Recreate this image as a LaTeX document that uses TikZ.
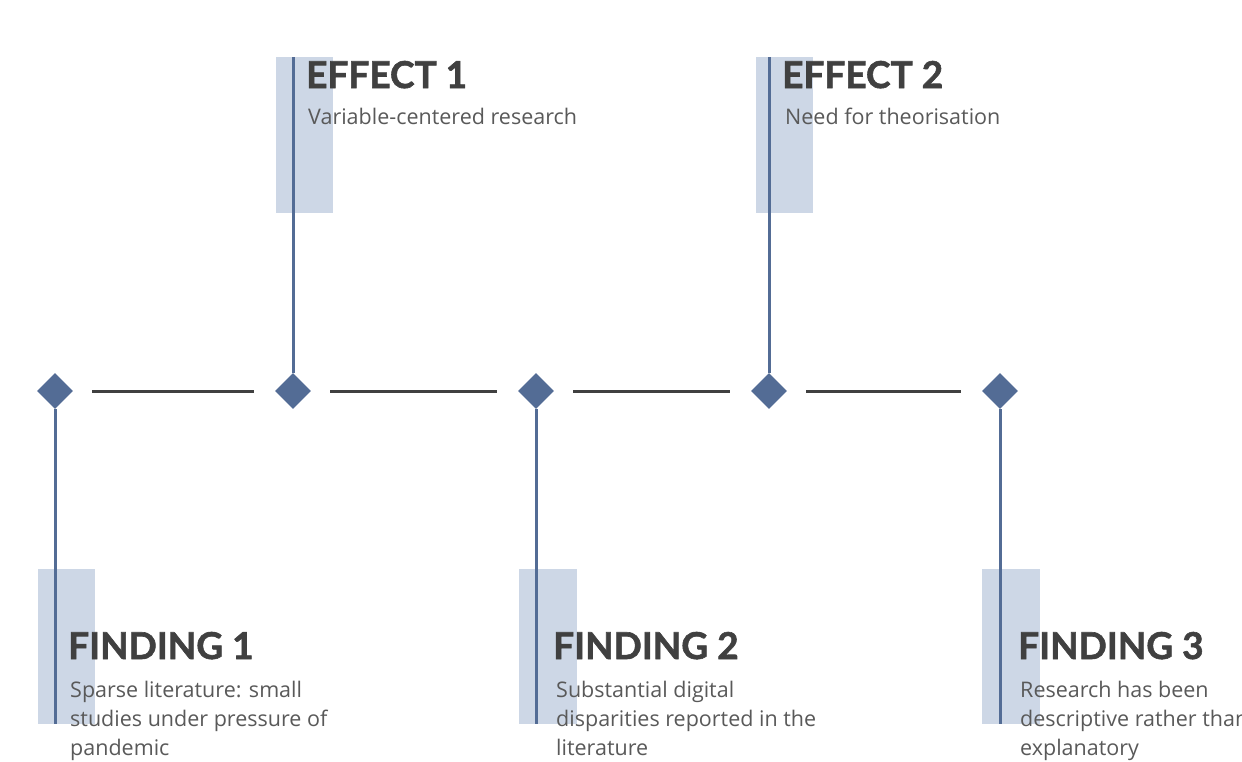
\documentclass[tikz,border=0pt]{standalone}
\usepackage{fontspec}
\setmainfont{Open Sans}
\newfontfamily\titlefont{Lato}[BoldFeatures={FakeBold=1.6}]
\usetikzlibrary{shapes.geometric}
\definecolor{dblue}{HTML}{536C95}
\definecolor{lblue}{HTML}{CDD7E6}
\definecolor{dgray}{HTML}{404040}
\definecolor{tgray}{HTML}{595959}
\tikzset{
  gem/.style={diamond, fill=dblue, draw=none, minimum width=36pt, minimum height=36pt, inner sep=0pt},
  link/.style={draw=dgray, line width=3pt, shorten <=19pt, shorten >=21pt},
  stem/.style={draw=dblue, line width=3pt},
  band/.style={fill=lblue, draw=none},
  ttl/.style={anchor=base west, inner sep=0pt, font=\titlefont\bfseries\fontsize{37}{37}\selectfont, text=dgray},
  body/.style={anchor=base west, inner sep=0pt, font=\fontsize{21.5}{29}\selectfont, text=tgray, align=left}
}
\begin{document}
\begin{tikzpicture}[x=1pt,y=-1pt]
\useasboundingbox (0,0) rectangle (1242,761);
\clip (0,0) rectangle (1242,761);
% bands
\fill[band] (276,57) rectangle (333,213);
\fill[band] (756,57) rectangle (813,213);
\fill[band] (38,569) rectangle (95,724);
\fill[band] (519,569) rectangle (577,724);
\fill[band] (982,569) rectangle (1040,724);
% diamonds
\node[gem] (d1) at (55,391) {};
\node[gem] (d2) at (293,391) {};
\node[gem] (d3) at (536,391) {};
\node[gem] (d4) at (769,391) {};
\node[gem] (d5) at (1000,391) {};
% links
\draw[link] (d1.east) -- (d2.west);
\draw[link] (d2.east) -- (d3.west);
\draw[link] (d3.east) -- (d4.west);
\draw[link] (d4.east) -- (d5.west);
% stems
\coordinate (t2) at (293,57);
\coordinate (t4) at (769,57);
\coordinate (b1) at (55,724);
\coordinate (b3) at (536,724);
\coordinate (b5) at (1000,724);
\draw[stem] (t2) -- (d2.north);
\draw[stem] (t4) -- (d4.north);
\draw[stem] (d1.south) -- (b1);
\draw[stem] (d3.south) -- (b3);
\draw[stem] (d5.south) -- (b5);
% texts
\node[ttl] (e1) at (306,88) {EFFECT 1};
\node[body] (e1b) at (308,124) {Variable-centered research};
\node[ttl] (e2) at (782,88) {EFFECT 2};
\node[body] (e2b) at (785,124) {Need for theorisation};
\node[ttl] (f1) at (68,659) {FINDING 1};
\node[body] (f1b) at (70,755) {Sparse literature: small\\studies under pressure of\\pandemic};
\node[ttl] (f2) at (553,659) {FINDING 2};
\node[body] (f2b) at (556,755) {Substantial digital\\disparities reported in the\\literature};
\node[ttl] (f3) at (1018,659) {FINDING 3};
\node[body] (f3b) at (1020,755) {Research has been\\descriptive rather than\\explanatory};
\end{tikzpicture}
\end{document}
